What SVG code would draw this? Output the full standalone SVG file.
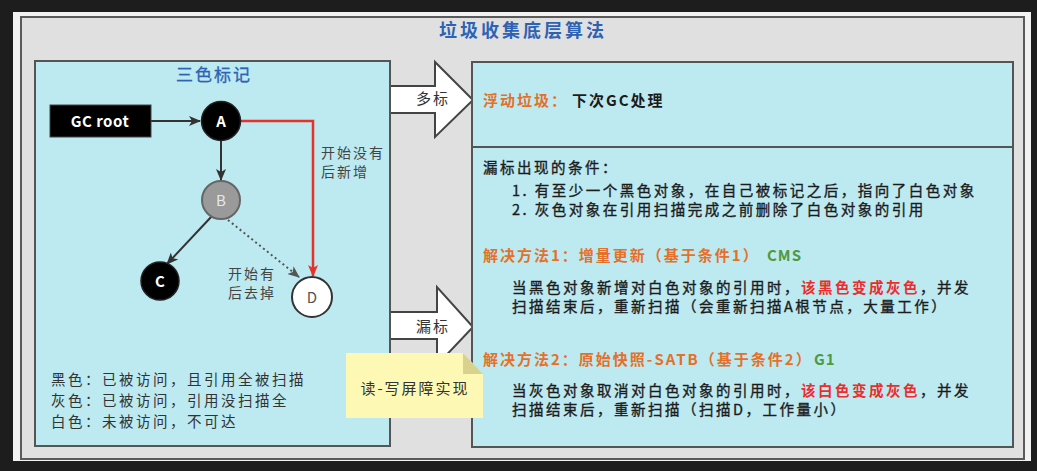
<svg xmlns="http://www.w3.org/2000/svg" width="1037" height="471" viewBox="0 0 1037 471">
<defs>
<style>
text{font-family:'Noto Sans CJK SC','Noto Sans',sans-serif;}
.t15{font-size:15px;letter-spacing:2px;}
.body{font-size:14.5px;letter-spacing:2.5px;fill:#1c1c1c;stroke:#1c1c1c;stroke-width:0.35px;}
.leg{font-size:14.5px;letter-spacing:2.5px;fill:#333;}
.lbl{font-size:14px;letter-spacing:2px;fill:#444;}
.org{fill:#e4702a;font-weight:bold;}
.grn{fill:#4f9a3c;font-weight:bold;}
.red{fill:#ec2c2c;stroke:none;font-weight:bold;}
.box{fill:#bde9f0;stroke:#555;stroke-width:2;}
.blk{fill:#fff;stroke:#444;stroke-width:2;stroke-linejoin:miter;}
.edge{fill:none;stroke:#333;stroke-width:2;}
</style>
<marker id="ah" markerUnits="userSpaceOnUse" markerWidth="12" markerHeight="10" refX="11" refY="5" orient="auto">
<path d="M0,0 L12,5 L0,10 L3,5 Z" fill="#333"/>
</marker>
<marker id="ahg" markerUnits="userSpaceOnUse" markerWidth="12" markerHeight="10" refX="11" refY="5" orient="auto">
<path d="M0,0 L12,5 L0,10 L3,5 Z" fill="#555"/>
</marker>
<marker id="ahr" markerUnits="userSpaceOnUse" markerWidth="12" markerHeight="10" refX="11" refY="5" orient="auto">
<path d="M0,0 L12,5 L0,10 L3,5 Z" fill="#e8312a"/>
</marker>
</defs>
<rect x="0" y="0" width="1037" height="471" fill="#1d1d1d"/>
<rect x="13" y="12" width="1018" height="449" fill="#f2f2f2"/>
<g id="panel">
<rect x="21" y="17" width="1003" height="442" fill="#e0e0e0" stroke="#5a5a5a" stroke-width="2"/>
<text x="523" y="37" text-anchor="middle" style="font-size:18px;letter-spacing:3px;font-weight:bold;fill:#2d62b4">垃圾收集底层算法</text>
</g>
<g id="arrow-duobiao">
<path class="blk" d="M390,86 L435,86 L435,62 L473,100 L435,137 L435,113 L390,113"/>
<text x="433" y="104" text-anchor="middle" class="t15" style="fill:#333">多标</text>
</g>
<g id="arrow-loubiao">
<path class="blk" d="M390,312 L437,312 L437,287 L473,327 L437,365 L437,339 L390,339"/>
<text x="433" y="332" text-anchor="middle" class="t15" style="fill:#333">漏标</text>
</g>
<g id="tricolor">
<rect class="box" x="35" y="61" width="355" height="385"/>
<text x="214" y="81" text-anchor="middle" style="font-size:17px;letter-spacing:2px;fill:#2d62b4;stroke:#2d62b4;stroke-width:0.3px">三色标记</text>
<text x="51" y="385" class="leg">黑色：已被访问，且引用全被扫描</text>
<text x="51" y="406" class="leg">灰色：已被访问，引用没扫描全</text>
<text x="51" y="427" class="leg">白色：未被访问，不可达</text>
</g>
<g id="connectors">
<line class="edge" x1="151" y1="121" x2="200" y2="121" marker-end="url(#ah)"/>
<line class="edge" x1="221" y1="141" x2="221" y2="180" marker-end="url(#ah)"/>
<line class="edge" x1="212" y1="216" x2="167" y2="264" marker-end="url(#ah)"/>
<line x1="228" y1="220" x2="299" y2="277" fill="none" stroke="#555" stroke-width="2" stroke-dasharray="2,3" marker-end="url(#ahg)"/>
<path d="M240,121 L313,121 L313,276" fill="none" stroke="#e8312a" stroke-width="2.5" marker-end="url(#ahr)"/>
<text x="321" y="158" class="lbl">开始没有</text>
<text x="321" y="177" class="lbl">后新增</text>
<text x="228" y="279" class="lbl">开始有</text>
<text x="228" y="298" class="lbl">后去掉</text>
</g>
<g id="gcroot">
<rect x="50" y="105" width="101" height="32" fill="#000" stroke="#444" stroke-width="1"/>
<text x="100" y="127" text-anchor="middle" style="font-size:15px;font-weight:bold;fill:#fff;letter-spacing:0.5px">GC root</text>
</g>
<g id="node-a">
<circle cx="221" cy="121" r="19.5" fill="#000" stroke="#222" stroke-width="1.5"/>
<text x="221" y="127" text-anchor="middle" style="font-size:15px;font-weight:bold;fill:#fff">A</text>
</g>
<g id="node-b">
<circle cx="221" cy="200" r="19" fill="#9a9a9a" stroke="#666" stroke-width="2"/>
<text x="221" y="206" text-anchor="middle" style="font-size:15px;fill:#e8e8e8">B</text>
</g>
<g id="node-c">
<circle cx="160" cy="281" r="19" fill="#000" stroke="#222" stroke-width="1.5"/>
<text x="160" y="287" text-anchor="middle" style="font-size:15px;font-weight:bold;fill:#fff">C</text>
</g>
<g id="node-d">
<circle cx="312" cy="297" r="20" fill="#fff" stroke="#333" stroke-width="2"/>
<text x="312" y="303" text-anchor="middle" style="font-size:15px;fill:#555">D</text>
</g>
<g id="floating">
<rect class="box" x="472" y="62" width="541" height="85"/>
<text x="483" y="106" class="t15"><tspan class="org">浮动垃圾：</tspan><tspan x="572" style="font-weight:bold;fill:#1c1c1c">下次GC处理</tspan></text>
</g>
<g id="missing">
<rect class="box" x="472" y="147" width="541" height="300"/>
<text x="483" y="173" class="body">漏标出现的条件：</text>
<text x="512" y="196" class="body">1. 有至少一个黑色对象，在自己被标记之后，指向了白色对象</text>
<text x="512" y="215" class="body">2. 灰色对象在引用扫描完成之前删除了白色对象的引用</text>
<text x="483" y="261" class="t15 org">解决方法1：增量更新（基于条件1）</text>
<text x="767" y="261" class="t15 grn" style="letter-spacing:1px">CMS</text>
<text x="512" y="293" class="body">当黑色对象新增对白色对象的引用时，<tspan class="red">该黑色变成灰色</tspan>，并发</text>
<text x="512" y="312" class="body">扫描结束后，重新扫描（会重新扫描A根节点，大量工作）</text>
<text x="483" y="365" class="t15 org">解决方法2：原始快照-SATB（基于条件2）</text>
<text x="814" y="365" class="t15 grn" style="letter-spacing:1px">G1</text>
<text x="512" y="396" class="body">当灰色对象取消对白色对象的引用时，<tspan class="red">该白色变成灰色</tspan>，并发</text>
<text x="512" y="415" class="body">扫描结束后，重新扫描（扫描D，工作量小）</text>
</g>
<g id="note">
<path d="M346,353 L463,353 L483,374 L483,418 L346,418 Z" fill="#fdf9b5"/>
<path d="M463,353 L463,374 L483,374 Z" fill="#d8d28e"/>
<text x="415" y="394" text-anchor="middle" class="t15" style="fill:#333">读-写屏障实现</text>
</g>
</svg>
